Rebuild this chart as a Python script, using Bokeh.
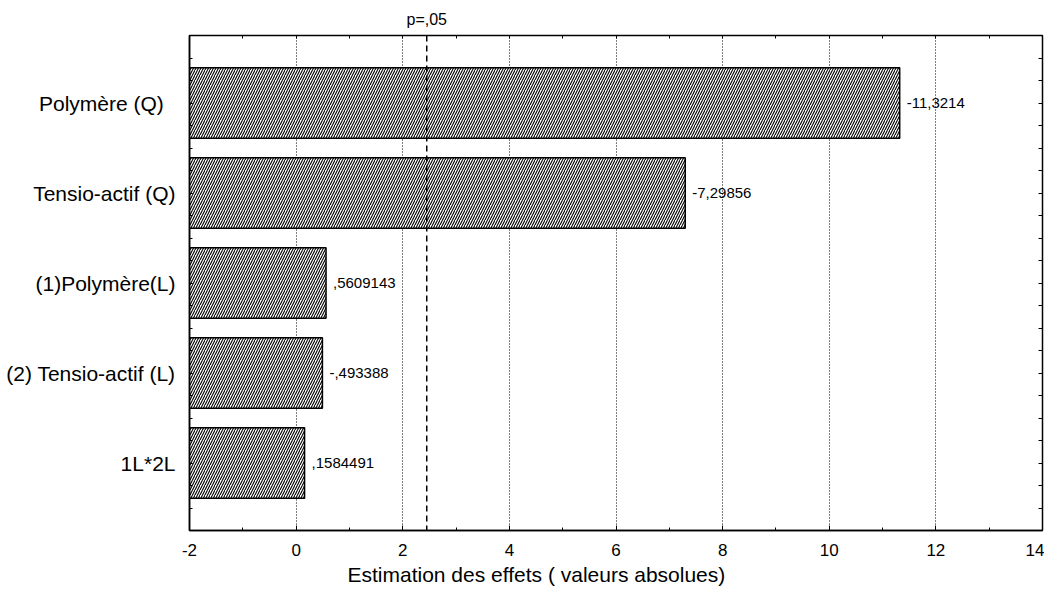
from bokeh.plotting import figure
from bokeh.models import (Range1d, LinearAxis, FixedTicker, ColumnDataSource,
                          LabelSet, Span, Title)
from bokeh.core.properties import value
from bokeh.embed import file_html
from bokeh.resources import INLINE

# ---- data ----
effects = ["Polymère   (Q)", "Tensio-actif (Q)", "(1)Polymère(L)",
           "(2) Tensio-actif (L)", "1L*2L"]
estimates = [-11.3214, -7.29856, 0.5609143, -0.493388, 0.1584491]
estimate_labels = ["-11,3214", "-7,29856", ",5609143", "-,493388", ",1584491"]
p_threshold = 2.45
p_label = "p=,05"
x_ticks = [-2, 0, 2, 4, 6, 8, 10, 12, 14]
x_tick_labels = ["-2", "0", "2", "4", "6", "8", "10", "12", "14"]
x_title = "Estimation des effets ( valeurs absolues)"

FONT = "Liberation Sans"

n = len(effects)
positions = [n - i for i in range(n)]
abs_est = [abs(v) for v in estimates]

src = ColumnDataSource(dict(pos=positions, val=abs_est, vlab=estimate_labels,
                            left=[x_ticks[0]] * n))

p = figure(frame_width=853, frame_height=495,
           x_range=Range1d(x_ticks[0], x_ticks[-1]),
           y_range=Range1d(0.25, n + 0.75),
           output_backend="svg", toolbar_location=None,
           min_border_left=189, min_border_right=2,
           min_border_top=35, min_border_bottom=66)

p.background_fill_color = "white"
p.border_fill_color = "white"
p.outline_line_color = "black"
p.outline_line_width = 1.5

# grid: dotted verticals
p.ygrid.visible = False
p.xgrid.ticker = FixedTicker(ticks=x_ticks[1:-1])
p.xgrid.grid_line_color = "black"
p.xgrid.grid_line_dash = "1 2"
p.xgrid.grid_line_width = 1

unit_ticks = list(range(x_ticks[0], x_ticks[-1] + 1))

# bottom axis
xa = p.xaxis[0]
xa.ticker = FixedTicker(ticks=x_ticks, minor_ticks=unit_ticks)
xa.major_label_overrides = {t: s for t, s in zip(x_ticks, x_tick_labels)}
xa.major_tick_in = 5
xa.major_tick_out = 0
xa.minor_tick_in = 3
xa.minor_tick_out = 0
xa.axis_line_color = "black"
xa.axis_line_width = 1.5
xa.major_label_text_font = FONT
xa.major_label_text_font_size = "17px"
xa.major_label_text_color = "black"
xa.major_label_standoff = 13

# axis title (left-shifted as in the reference)
p.add_layout(Title(text=x_title, align="left", offset=158, standoff=4,
                   text_font=FONT, text_font_size="21px", text_font_style="normal",
                   text_color="black"), "below")

# top axis: unit ticks + the p=,05 label at the threshold
top = LinearAxis(ticker=FixedTicker(ticks=[p_threshold], minor_ticks=unit_ticks),
                 major_label_overrides={p_threshold: p_label},
                 minor_tick_in=3, minor_tick_out=0, major_tick_in=0, major_tick_out=0,
                 axis_line_color="black", major_label_text_font=FONT,
                 major_label_text_font_size="16px", major_label_text_color="black",
                 major_label_standoff=8)
p.add_layout(top, "above")

# left axis: category names; right axis: ticks only
ymin = [0.25 * k for k in range(2, 4 * n + 3)]
ya = p.yaxis[0]
ya.ticker = FixedTicker(ticks=positions, minor_ticks=ymin)
ya.major_label_overrides = {pos: name for pos, name in zip(positions, effects)}
ya.major_label_orientation = "horizontal"
ya.major_label_text_font = FONT
ya.major_label_text_font_size = "21px"
ya.major_label_text_color = "black"
ya.major_label_standoff = 14
ya.minor_tick_in = 3
ya.minor_tick_out = 0
ya.major_tick_in = 3
ya.major_tick_out = 0
ya.axis_line_color = "black"
ya.axis_line_width = 1.5
right = LinearAxis(ticker=FixedTicker(ticks=[], minor_ticks=ymin),
                   minor_tick_in=4, minor_tick_out=0, major_tick_in=0, major_tick_out=0,
                   axis_line_color="black")
p.add_layout(right, "right")

# bars
p.hbar(y="pos", left="left", right="val", height=0.786, source=src,
       fill_color="white", line_color="black", line_width=1.5,
       hatch_pattern="/", hatch_color="black", hatch_scale=5, hatch_weight=1.1)

# significance line
p.add_layout(Span(location=p_threshold, dimension="height", line_color="black",
                  line_dash="6 4", line_width=1.5))

# value labels
p.add_layout(LabelSet(x="val", y="pos", text="vlab", source=src, x_offset=7,
                      text_baseline="middle", text_align="left",
                      text_font=value(FONT), text_font_size="15px",
                      text_color="black"))

open("out.html", "w").write(file_html(p, INLINE))
